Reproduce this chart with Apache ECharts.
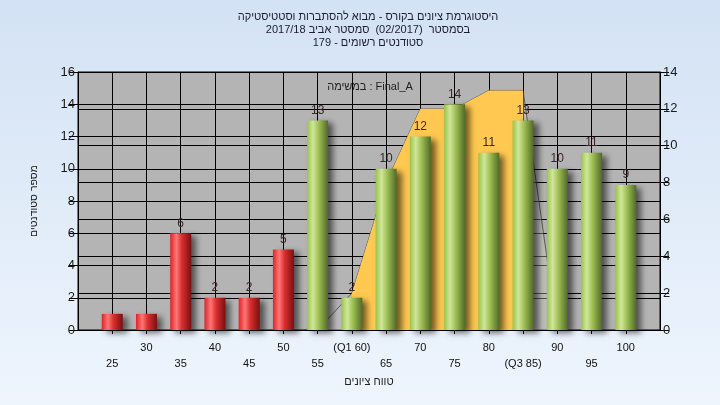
<!DOCTYPE html>
<html>
<head>
<meta charset="utf-8">
<script src="https://cdn.jsdelivr.net/npm/echarts@6/dist/echarts.min.js"></script>
<style>
html,body{margin:0;padding:0;}
#c{width:720px;height:405px;}
</style>
</head>
<body>
<div id="c"></div>
<script>
// ---- data ----
const titleLines = [
  'היסטוגרמת ציונים בקורס - מבוא להסתברות וסטטיסטיקה',
  'בסמסטר  (02/2017)  סמסטר אביב 2017/18',
  'סטודנטים רשומים - 179'
];
const legendText = 'במשימה : Final_A';
const yAxisTitle = 'מספר סטודנטים';
const xAxisTitle = 'טווח ציונים';
const categories = [25,30,35,40,45,50,55,60,65,70,75,80,85,90,95,100];
const tickLabels = ['25','30','35','40','45','50','55','(Q1 60)','65','70','75','80','(Q3 85)','90','95','100'];
const counts = [1,1,6,2,2,5,13,2,10,12,14,11,13,10,11,9];
const passMark = 55;
const q1 = 60, q3 = 85;
const curveX = [55,60,65,70,75,80,85,90];
const curveVals = [0,2,8,12,12,13,13,0];
const leftTicks = [0,2,4,6,8,10,12,14,16];
const rightTicks = [0,2,4,6,8,10,12,14];

const FONT = 'Liberation Sans, Arial, DejaVu Sans, sans-serif';

const greenGrad = {type:'linear',x:0,y:0,x2:1,y2:0,colorStops:[
  {offset:0,color:'#9cc24a'},{offset:0.28,color:'#cfe79a'},{offset:0.55,color:'#9fbf55'},{offset:1,color:'#506a26'}]};
const redGrad = {type:'linear',x:0,y:0,x2:1,y2:0,colorStops:[
  {offset:0,color:'#dc2428'},{offset:0.3,color:'#ff7676'},{offset:0.55,color:'#d9302f'},{offset:1,color:'#7a0f10'}]};

const barData = categories.map((c,i)=>({
  value:[c, counts[i]],
  itemStyle:{color: c < passMark ? redGrad : greenGrad},
  label:{show: counts[i] > 1}
}));
const curveData = curveX.map((x,i)=>[x, curveVals[i]]);
const iqrData = curveData.filter(p => p[0] >= q1 && p[0] <= q3);

const chart = echarts.init(document.getElementById('c'), null, {renderer:'canvas'});
chart.setOption({
  animation:false,
  backgroundColor:{type:'linear',x:0,y:0,x2:0,y2:1,colorStops:[
    {offset:0,color:'#d3e2f4'},{offset:1,color:'#eef5fd'}]},
  title:[{
    text: titleLines.join('\n'),
    left: 363, top: 5, textAlign:'center',
    textStyle:{fontFamily:FONT,fontSize:11,fontWeight:'normal',color:'#1c1c30',lineHeight:13}
  },{
    text: legendText,
    left: 365, top: 76, textAlign:'center',
    textStyle:{fontFamily:FONT,fontSize:11,fontWeight:'normal',color:'#222'}
  }],
  grid:{left:78,right:60,top:72,bottom:75,show:true,backgroundColor:'#b4b4b4',borderColor:'#000',borderWidth:1},
  xAxis:{
    type:'value', min:20, max:105, interval:5,
    name: xAxisTitle, nameLocation:'middle', nameGap:45,
    nameTextStyle:{fontFamily:FONT,fontSize:11,color:'#222'},
    axisLine:{lineStyle:{color:'#000'}},
    axisTick:{show:true,length:4,lineStyle:{color:'#000'}},
    splitLine:{show:true,lineStyle:{color:'#000',width:1}},
    axisLabel:{
      fontFamily:FONT,fontSize:11,color:'#111',margin:10,lineHeight:16,
      showMinLabel:false, showMaxLabel:false,
      formatter: v => {
        const i = categories.indexOf(v);
        if (i < 0) return '';
        return (i % 2 === 0) ? '\n' + tickLabels[i] : tickLabels[i];
      }
    }
  },
  yAxis:[{
    type:'value', min:0, max:16, interval:2, position:'left',
    name: yAxisTitle, nameLocation:'middle', nameGap:38, nameRotate:90,
    nameTextStyle:{fontFamily:FONT,fontSize:10.5,color:'#222'},
    axisLine:{show:true,lineStyle:{color:'#000'}},
    axisTick:{show:true,length:9,lineStyle:{color:'#000'}},
    splitLine:{show:true,lineStyle:{color:'#000',width:1}},
    axisLabel:{fontFamily:FONT,fontSize:13,color:'#1a1a1a',margin:3,
      formatter: v => leftTicks.includes(v) ? String(v) : ''}
  },{
    type:'value', min:0, max:14, interval:2, position:'right',
    axisLine:{show:true,lineStyle:{color:'#000'}},
    axisTick:{show:true,length:9,lineStyle:{color:'#000'}},
    splitLine:{show:true,lineStyle:{color:'#000',width:1}},
    axisLabel:{fontFamily:FONT,fontSize:13,color:'#1a1a1a',margin:3,
      formatter: v => rightTicks.includes(v) ? String(v) : ''}
  }],
  series:[{
    type:'line', yAxisIndex:1, data:curveData, symbol:'none', z:1,
    lineStyle:{color:'rgba(50,50,50,0.7)',width:1},
    areaStyle:{color:'rgba(205,205,205,0.55)'}
  },{
    type:'line', yAxisIndex:1, data:iqrData, symbol:'none', z:2,
    lineStyle:{width:0,color:'#ffc850'},
    areaStyle:{color:'#ffc850',opacity:1}
  },{
    type:'bar', data:barData, barWidth:21, z:5,
    itemStyle:{shadowColor:'rgba(0,0,0,0.55)',shadowBlur:6,shadowOffsetX:5,shadowOffsetY:3},
    label:{position:'top',distance:4,fontFamily:FONT,fontSize:12,color:'#3e2424',
      formatter: p => String(p.value[1])}
  }]
});
</script>
</body>
</html>
